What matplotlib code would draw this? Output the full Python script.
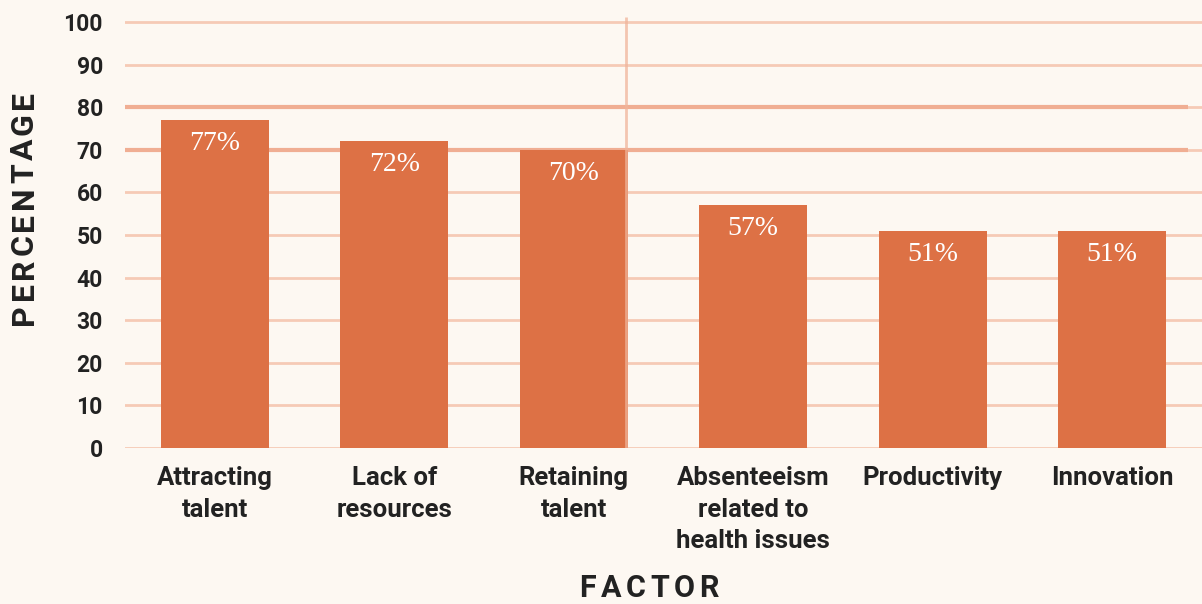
import matplotlib
matplotlib.use("Agg")
import matplotlib.pyplot as plt

# Survey data
categories = ["Attracting\ntalent", "Lack of\nresources", "Retaining\ntalent",
              "Absenteeism\nrelated to\nhealth issues", "Productivity", "Innovation"]
values = [77, 72, 70, 57, 51, 51]
y_ticks = [0, 10, 20, 30, 40, 50, 60, 70, 80, 90, 100]
highlight_levels = [80, 70]

BG = "#fdf8f2"
BAR = "#dd7145"
GRID = "#f6cab6"
GRID_STRONG = "#f0ae93"
INK = "#222222"

fig = plt.figure(figsize=(12.02, 6.04), dpi=100, facecolor=BG)
ax = fig.add_axes([125 / 1202, 156 / 604, 1 - 125 / 1202, (448 - 13.5) / 604])
ax.set_facecolor(BG)

x = list(range(len(categories)))
ax.set_xlim(-0.5, 5.5)
ax.set_ylim(0, 102)

# gridlines
for t in y_ticks:
    ax.axhline(t, color=GRID, lw=2, zorder=0.5)
ax.hlines(highlight_levels, -0.5, 5.42, color=GRID_STRONG, lw=3, zorder=0.6)

bars = ax.bar(x, values, width=0.6, color=BAR, zorder=2)

for xi, v in zip(x, values):
    ax.annotate(f"{v}%", (xi, v), xytext=(0, -17), textcoords="offset points",
                ha="center", va="center", color="white",
                fontsize=20, family="Liberation Serif", zorder=3)

# marker line at the right edge of the third bar
ax.vlines(2.29, 0, 101.2, color="#f0b49a", lw=2, alpha=0.75, zorder=2.5)

ax.set_xticks(x)
ax.set_xticklabels(categories, fontsize=18.5, fontweight="bold", family="Roboto",
                   color=INK, linespacing=1.4, va="top")
ax.set_yticks(y_ticks)
ax.set_yticklabels([str(t) for t in y_ticks], fontsize=16.5, fontweight="bold",
                   family="Roboto", color=INK)
ax.tick_params(axis="both", length=0)
ax.tick_params(axis="y", pad=16)
ax.tick_params(axis="x", pad=13)
for s in ax.spines.values():
    s.set_visible(False)

# letter-spaced axis titles
renderer = fig.canvas.get_renderer()


def spaced_text(s, cx, cy, size, gap, rotation=0):
    arts = []
    widths = []
    for ch in s:
        t = fig.text(0, 0, ch, fontsize=size, fontweight="bold", family="Roboto",
                     color=INK, ha="left", va="center", rotation=rotation,
                     transform=None)
        bb = t.get_window_extent(renderer)
        widths.append(bb.height if rotation else bb.width)
        arts.append(t)
    total = sum(widths) + gap * (len(s) - 1)
    pos = -total / 2
    fig_h = fig.bbox.height
    for t, w in zip(arts, widths):
        if rotation:
            t.set_position((cx, fig_h - cy + pos))
            t.set_ha("center")
            t.set_va("bottom")
        else:
            t.set_position((cx + pos, fig_h - cy))
        pos += w + gap


spaced_text("FACTOR", 649, 588, 22, 4.5)
spaced_text("PERCENTAGE", 24, 208, 23, 3.5, rotation=90)

fig.savefig("out.png", dpi=100, facecolor=BG)
